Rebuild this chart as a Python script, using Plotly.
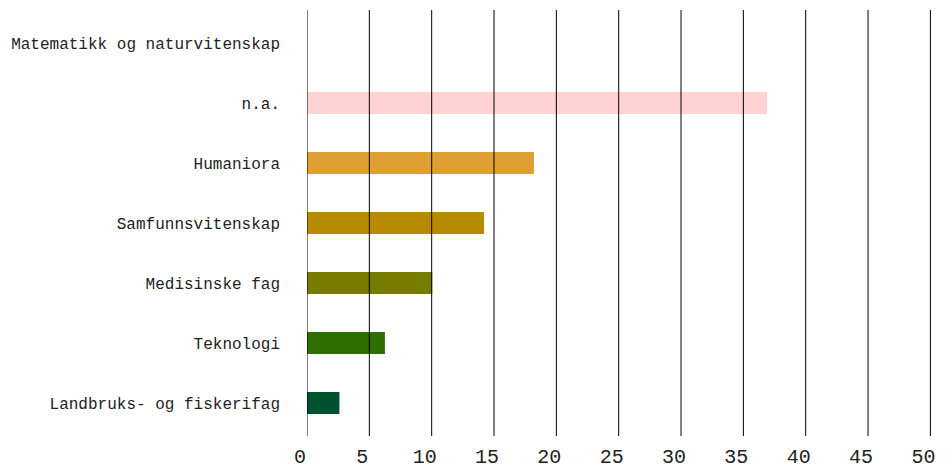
import plotly.graph_objects as go

categories = ["Matematikk og naturvitenskap", "n.a.", "Humaniora", "Samfunnsvitenskap",
              "Medisinske fag", "Teknologi", "Landbruks- og fiskerifag"]
values = [0, 36.9, 18.2, 14.2, 10.05, 6.25, 2.6]
colors = ["#FFFFFF", "#FFD3D3", "#E09F34", "#B68B00", "#777B00", "#2F6E00", "#00522E"]
tick_vals = [0, 5, 10, 15, 20, 25, 30, 35, 40, 45, 50]

fig = go.Figure()
fig.add_trace(go.Bar(
    x=values, y=categories, orientation="h",
    marker=dict(color=colors, line=dict(width=0)),
    width=0.37, hoverinfo="x+y",
))

for v in tick_vals:
    fig.add_shape(type="line", xref="x", yref="paper", x0=v, x1=v, y0=0, y1=1,
                  line=dict(color="black", width=1), layer="above")

fig.update_layout(
    width=930, height=462,
    margin=dict(l=299, r=7, t=2, b=34),
    plot_bgcolor="white", paper_bgcolor="white",
    showlegend=False,
    font=dict(family="Liberation Mono, DejaVu Sans Mono, monospace", color="#222"),
    xaxis=dict(range=[0, 50.05], tickvals=tick_vals, showgrid=False, zeroline=False,
               tickfont=dict(size=20, color="#222"), ticklabelshift=-7,
               ticklabelstandoff=6, ticks="", fixedrange=True, automargin=False),
    yaxis=dict(categoryorder="array", categoryarray=categories[::-1],
               range=[-0.55, 6.55], showgrid=False, zeroline=False,
               tickfont=dict(size=16, color="#222"), ticklabelstandoff=26, ticks="",
               automargin=False),
)

fig.write_html("out.html")
